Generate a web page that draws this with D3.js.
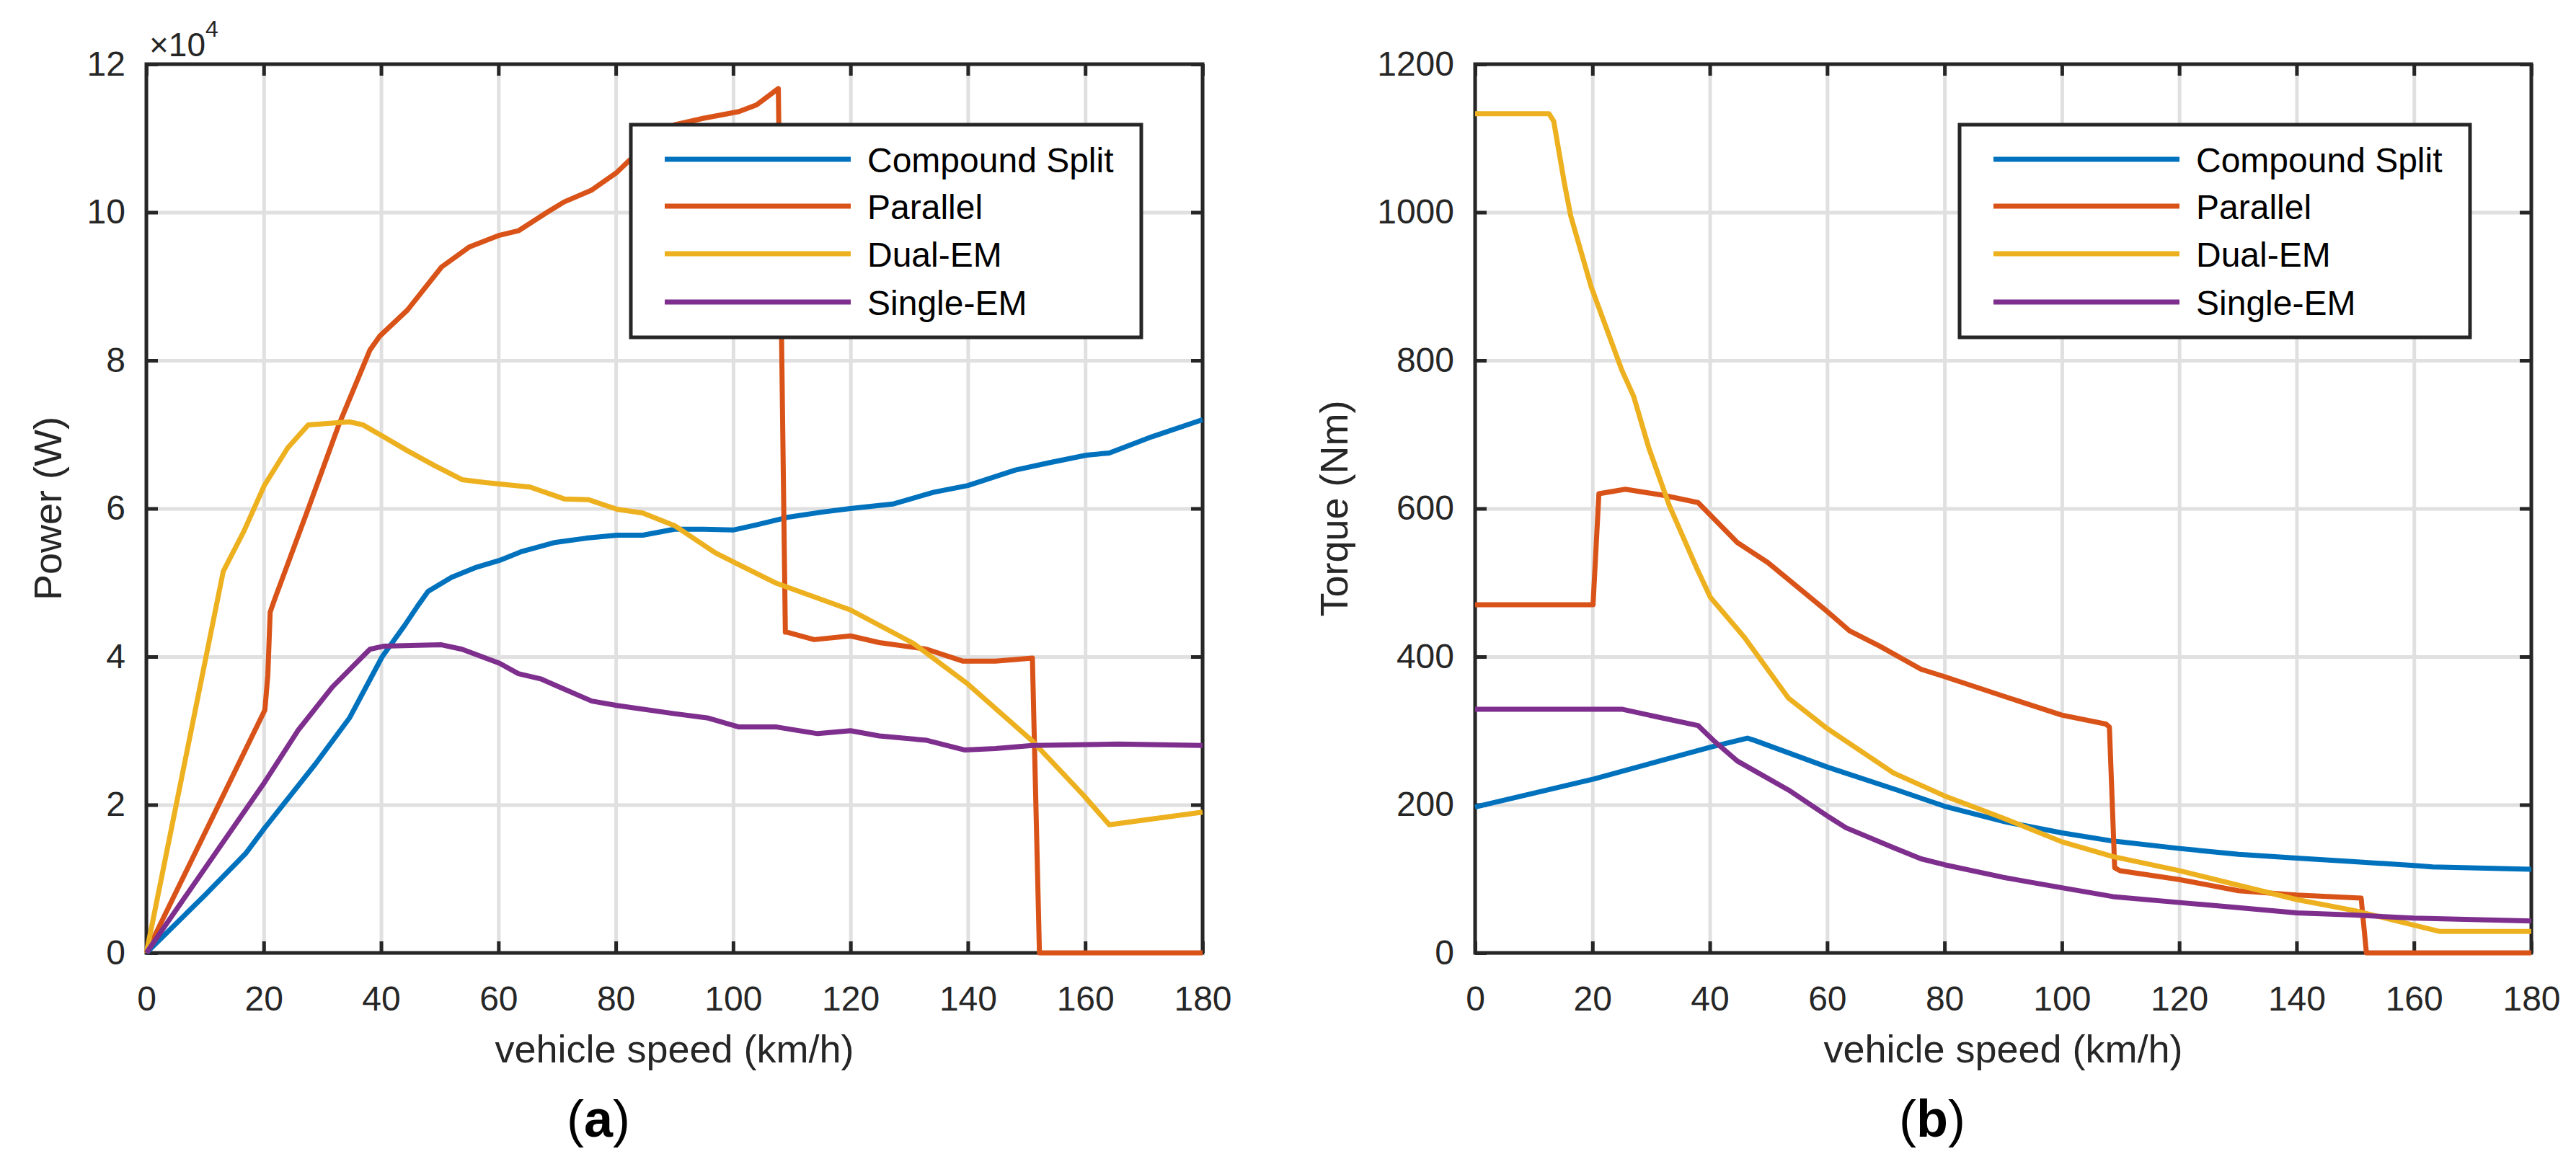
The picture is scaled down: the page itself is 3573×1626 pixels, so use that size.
<!DOCTYPE html>
<html><head><meta charset="utf-8">
<script src="https://cdn.jsdelivr.net/npm/d3@7"></script>
<style>
html,body{margin:0;padding:0;background:#fff;}
svg{display:block;}
text{font-family:"Liberation Sans", Arial, Helvetica, sans-serif;}
</style>
</head><body>
<svg id="chart" width="3573" height="1626"></svg>
<script>
// ---------- data ----------
const seriesNames = ["Compound Split", "Parallel", "Dual-EM", "Single-EM"];
const seriesColors = ["#0072BD", "#D95319", "#EDB120", "#7E2F8E"];
const speedTicks = [0, 20, 40, 60, 80, 100, 120, 140, 160, 180];
const powerTicks = [0, 20000, 40000, 60000, 80000, 100000, 120000];
const powerTickLabels = ["0", "2", "4", "6", "8", "10", "12"];
const torqueTicks = [0, 200, 400, 600, 800, 1000, 1200];

// (a) Power (W) vs vehicle speed (km/h)
const powerCompoundSpeed = [0, 10, 16.9, 20.2, 28.8, 34.6, 40.2, 44, 46.2, 48, 52, 56, 60.2, 64, 69.5, 75, 80.2, 84.6, 90, 95, 100, 104, 109.2, 115, 120, 127.2, 134.2, 140, 148.1, 154, 160.2, 164.1, 171.4, 180];
const powerCompound = [0, 7800, 13400, 16900, 25500, 31700, 40000, 44200, 46800, 48800, 50700, 52000, 53000, 54200, 55400, 56000, 56400, 56400, 57200, 57200, 57100, 57800, 58800, 59500, 60000, 60600, 62200, 63100, 65200, 66200, 67200, 67500, 69700, 72000];

const powerParallelSpeed = [0, 20.2, 20.7, 21.1, 21.8, 27.6, 32.8, 38.1, 39.8, 44.5, 50.3, 55, 60.2, 63.4, 68.3, 71.2, 75.9, 80.2, 82.3, 86, 90, 95, 101, 104, 107.7, 108.9, 109.2, 113.8, 120, 124.9, 133, 139.1, 144.7, 151, 152.2, 180];
const powerParallel = [0, 32800, 37500, 46000, 47600, 60000, 71300, 81400, 83300, 86800, 92600, 95300, 96900, 97500, 100000, 101400, 103000, 105400, 107000, 109500, 111800, 112700, 113600, 114500, 116700, 43300, 43300, 42300, 42800, 41900, 41000, 39400, 39400, 39800, 0, 0];

const powerDualSpeed = [0, 13.1, 16.6, 20.1, 24.1, 27.6, 34.6, 36.9, 40.4, 44.5, 49.1, 53.8, 57.8, 65.4, 71.2, 75.3, 80.2, 84.6, 90, 97, 100, 107.4, 120, 130.7, 140, 151, 159.8, 164.1, 180];
const powerDual = [0, 51500, 56900, 63100, 68200, 71300, 71700, 71300, 69700, 67800, 65800, 63900, 63500, 62900, 61300, 61200, 59900, 59400, 57700, 54000, 52800, 49900, 46300, 41800, 36300, 28600, 21200, 17300, 19000];

const powerSingleSpeed = [0, 20.2, 25.9, 31.7, 38.1, 40.4, 45, 50.3, 53.8, 60.2, 63.4, 67.2, 75.9, 80.2, 90, 95.8, 101, 107.4, 114.4, 120, 124.9, 133, 139.4, 144.7, 151, 165.6, 180];
const powerSingle = [0, 23100, 30100, 35900, 41000, 41400, 41500, 41600, 41000, 39100, 37700, 37000, 34000, 33400, 32300, 31700, 30500, 30500, 29600, 30000, 29300, 28700, 27400, 27600, 28000, 28200, 28000];

// (b) Torque (Nm) vs vehicle speed (km/h)
const torqueCompoundSpeed = [0, 20.3, 40.2, 46.4, 47.6, 60, 71.9, 80, 90.3, 100, 108.7, 120, 130.1, 140, 149.9, 160, 163.2, 180];
const torqueCompound = [197, 235, 278, 290, 287, 251, 220, 198, 177, 162, 151, 141, 133, 128, 123, 118, 116, 113];

const torqueParallelSpeed = [0, 20.1, 21.1, 25.6, 32, 38, 44.7, 49.9, 60, 63.8, 69, 76, 80, 90.3, 100, 107.5, 108.1, 109, 109.9, 120, 130.1, 140, 151, 151.9, 180];
const torqueParallel = [470, 470, 620, 626, 618, 608, 554, 527, 461, 435, 414, 383, 373, 346, 321, 309, 305, 115, 111, 99, 84, 78, 74, 0, 0];

const torqueDualSpeed = [0, 12.6, 13.4, 15.2, 16.3, 19.8, 25, 27, 29.6, 33.1, 37.8, 40.1, 45.9, 53.4, 60, 63.2, 71.3, 80, 90.3, 100, 108.7, 120, 140, 149.9, 164.3, 180];
const torqueDual = [1133, 1133, 1123, 1040, 995, 899, 787, 752, 682, 604, 519, 480, 426, 344, 303, 286, 243, 212, 181, 150, 130, 111, 72, 57, 29, 29];

const torqueSingleSpeed = [0, 25, 32, 38, 40.6, 44.7, 53.4, 60, 63.2, 71.3, 76, 80, 90, 100, 108.7, 120, 130.1, 140, 149.9, 160, 180];
const torqueSingle = [329, 329, 317, 307, 287, 259, 220, 185, 169, 142, 127, 119, 102, 88, 76, 68, 61, 54, 51, 47, 43];

// ---------- drawing ----------
const svg = d3.select("#chart");
svg.append("rect").attr("width", 3573).attr("height", 1626).attr("fill", "#fff");

const AX = "#262626";
const GRID = "#e0e0e0";

const zip = (xs, ys) => xs.map((x, i) => [x, ys[i]]);

const panels = [
  {
    left: 203, right: 1668, top: 89, bottom: 1322,
    yMax: 120000, yTicks: powerTicks, yFmt: (d, i) => powerTickLabels[i],
    yLabel: "Power (W)", yLabelX: 66, letter: "a", letterX: 830,
    multiplier: true,
    series: [zip(powerCompoundSpeed, powerCompound), zip(powerParallelSpeed, powerParallel),
             zip(powerDualSpeed, powerDual), zip(powerSingleSpeed, powerSingle)]
  },
  {
    left: 2046, right: 3511, top: 89, bottom: 1322,
    yMax: 1200, yTicks: torqueTicks, yFmt: d => String(d),
    yLabel: "Torque (Nm)", yLabelX: 1850, letter: "b", letterX: 2680,
    multiplier: false,
    series: [zip(torqueCompoundSpeed, torqueCompound), zip(torqueParallelSpeed, torqueParallel),
             zip(torqueDualSpeed, torqueDual), zip(torqueSingleSpeed, torqueSingle)]
  }
];

panels.forEach(p => {
  const x = d3.scaleLinear().domain([0, 180]).range([p.left, p.right]);
  const y = d3.scaleLinear().domain([0, p.yMax]).range([p.bottom, p.top]);
  const w = p.right - p.left, h = p.bottom - p.top;
  const g = svg.append("g");

  // grid
  const gx = g.append("g").attr("transform", `translate(0,${p.bottom})`)
    .call(d3.axisBottom(x).tickValues(speedTicks).tickSize(-h).tickFormat(""));
  gx.select(".domain").remove();
  gx.selectAll("line").attr("stroke", GRID).attr("stroke-width", 5);
  const gy = g.append("g").attr("transform", `translate(${p.left},0)`)
    .call(d3.axisLeft(y).tickValues(p.yTicks).tickSize(-w).tickFormat(""));
  gy.select(".domain").remove();
  gy.selectAll("line").attr("stroke", GRID).attr("stroke-width", 5);

  // box
  g.append("rect").attr("x", p.left).attr("y", p.top).attr("width", w).attr("height", h)
    .attr("fill", "none").attr("stroke", AX).attr("stroke-width", 5);

  const styleAxis = (sel, labelled) => {
    sel.select(".domain").remove();
    sel.selectAll("line").attr("stroke", AX).attr("stroke-width", 5);
    if (labelled) sel.selectAll("text").attr("fill", AX).attr("font-size", 48)
      .attr("font-family", '"Liberation Sans", Arial, sans-serif');
  };
  const ab = g.append("g").attr("transform", `translate(0,${p.bottom})`)
    .call(d3.axisBottom(x).tickValues(speedTicks).tickSize(-16).tickPadding(46).tickFormat(d3.format("d")));
  styleAxis(ab, true);
  const at = g.append("g").attr("transform", `translate(0,${p.top})`)
    .call(d3.axisTop(x).tickValues(speedTicks).tickSize(-16).tickFormat(""));
  styleAxis(at, false);
  const al = g.append("g").attr("transform", `translate(${p.left},0)`)
    .call(d3.axisLeft(y).tickValues(p.yTicks).tickSize(-16).tickPadding(29).tickFormat(p.yFmt));
  styleAxis(al, true);
  const ar = g.append("g").attr("transform", `translate(${p.right},0)`)
    .call(d3.axisRight(y).tickValues(p.yTicks).tickSize(-16).tickFormat(""));
  styleAxis(ar, false);

  // lines
  const line = d3.line().x(d => x(d[0])).y(d => y(d[1]));
  p.series.forEach((s, i) => {
    g.append("path").datum(s).attr("d", line).attr("fill", "none")
      .attr("stroke", seriesColors[i]).attr("stroke-width", 7)
      .attr("stroke-linejoin", "round").attr("stroke-linecap", "butt");
  });

  // legend
  const lx = p.left + 672, ly = 173;
  const lg = g.append("g");
  lg.append("rect").attr("x", lx).attr("y", ly).attr("width", 708).attr("height", 295)
    .attr("fill", "#fff").attr("stroke", AX).attr("stroke-width", 5);
  const rowY = [48, 113, 179, 246];
  seriesNames.forEach((n, i) => {
    lg.append("line").attr("x1", lx + 47).attr("x2", lx + 305)
      .attr("y1", ly + rowY[i]).attr("y2", ly + rowY[i])
      .attr("stroke", seriesColors[i]).attr("stroke-width", 7);
    lg.append("text").attr("x", lx + 328).attr("y", ly + rowY[i] + 18)
      .attr("font-size", 48).attr("fill", "#000").text(n);
  });

  // axis labels
  g.append("text").attr("x", (p.left + p.right) / 2).attr("y", 1474)
    .attr("text-anchor", "middle").attr("font-size", 54).attr("fill", AX)
    .text("vehicle speed (km/h)");
  g.append("text").attr("transform", `translate(${p.yLabelX},${(p.top + p.bottom) / 2}) rotate(-90)`)
    .attr("text-anchor", "middle").attr("dominant-baseline", "central")
    .attr("font-size", 54).attr("fill", AX).text(p.yLabel);

  if (p.multiplier) {
    const t = g.append("text").attr("x", p.left + 4).attr("y", 78).attr("font-size", 46).attr("fill", AX);
    t.append("tspan").text("×10");
    t.append("tspan").attr("font-size", 32).attr("dy", -27).text("4");
  }

  // panel letter
  const lt = g.append("text").attr("x", p.letterX).attr("y", 1577).attr("text-anchor", "middle")
    .attr("font-size", 72).attr("fill", "#000")
    .attr("font-family", '"Liberation Serif", "Times New Roman", serif');
  lt.append("tspan").text("(");
  lt.append("tspan").attr("font-weight", "bold").text(p.letter);
  lt.append("tspan").text(")");
});
</script>
</body></html>
